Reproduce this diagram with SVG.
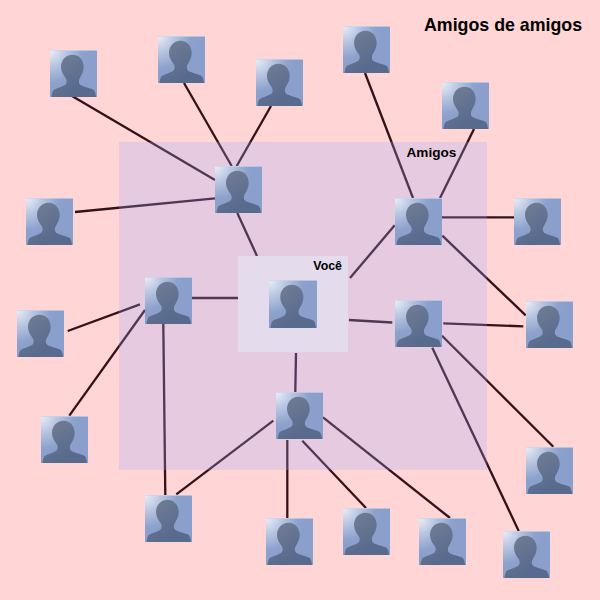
<svg xmlns="http://www.w3.org/2000/svg" width="600" height="600" viewBox="0 0 600 600">
<style>
.t{font-family:"Liberation Sans",Arial,sans-serif;font-weight:bold;fill:#000}
#connectors line{stroke:#34121a;stroke-width:2.300;fill:none}
</style>
<defs>
<radialGradient id="bg" gradientUnits="userSpaceOnUse" cx="0" cy="0" r="38">
<stop offset="0" stop-color="#eceff7"/><stop offset="0.4" stop-color="#bcc8e2"/><stop offset="0.85" stop-color="#8da2cc"/><stop offset="1" stop-color="#8a9fcb"/>
</radialGradient>
<linearGradient id="fg" x1="0.1" y1="0" x2="0.6" y2="0.8">
<stop offset="0" stop-color="#737e94"/><stop offset="1" stop-color="#586a8e"/>
</linearGradient>
<symbol id="person" viewBox="0 0 47 47" overflow="visible">
<rect width="47" height="47" fill="url(#bg)"/>
<path d="M0 .5H47" stroke="#c4d6ee" stroke-width="1" opacity=".7"/>
<path fill="url(#fg)" d="M22.500 4.700C29 4.700 33.700 10 33.700 17C33.700 21.500 31.500 25.500 29.500 28.500C28.500 31 28.500 33.500 30.500 35C34 37 40 38 43 39.500C45 40.500 45.500 43 46 47H1.500C2 43 2.500 40.500 4.500 39.500C7 38 12 37 15 35C17 33.500 17 31 16 28.500C13.500 25.500 11 21.500 11 17C11 10 16 4.700 22.500 4.700Z"/>
</symbol>
</defs>
<rect id="background" width="600" height="600" fill="#ffd5d5"/>
<g id="connectors">
<line x1="72" y1="96" x2="215" y2="180"/>
<line x1="184" y1="83" x2="231.700" y2="166"/>
<line x1="271" y1="106" x2="236.700" y2="166"/>
<line x1="365" y1="73" x2="413" y2="198"/>
<line x1="474" y1="129" x2="440" y2="198"/>
<line x1="75" y1="212" x2="215" y2="198.300"/>
<line x1="237.300" y1="213" x2="257" y2="256"/>
<line x1="350" y1="278" x2="394.700" y2="225.300"/>
<line x1="442" y1="217.300" x2="514" y2="217.300"/>
<line x1="442.300" y1="235.700" x2="525.700" y2="315.300"/>
<line x1="192" y1="298" x2="240" y2="298"/>
<line x1="349" y1="320" x2="392.300" y2="322.500"/>
<line x1="443.300" y1="323.300" x2="523.300" y2="326.300"/>
<line x1="67.700" y1="331" x2="140" y2="304.300"/>
<line x1="69.300" y1="415.700" x2="145" y2="310"/>
<line x1="163.300" y1="324" x2="165.300" y2="495"/>
<line x1="296" y1="353" x2="295.300" y2="392"/>
<line x1="273.300" y1="420.700" x2="176.300" y2="494.300"/>
<line x1="287.300" y1="440" x2="287.300" y2="518"/>
<line x1="302.300" y1="440.700" x2="366" y2="508"/>
<line x1="323" y1="417.300" x2="450" y2="518"/>
<line x1="442" y1="335.700" x2="553.300" y2="446.700"/>
<line x1="432.300" y1="347.700" x2="518.700" y2="531"/>
</g>
<rect id="amigos-area" x="119" y="142" width="368" height="328" fill="#9cacff" fill-opacity="0.25"/>
<rect id="voce-area" x="238" y="256" width="110" height="96" fill="#e4dcec"/>
<text class="t" x="406.500" y="157.300" font-size="13.600">Amigos</text>
<text class="t" x="313.300" y="270" font-size="12.400">Você</text>
<text class="t" x="424" y="31" font-size="17.800">Amigos de amigos</text>
<g id="n1"><use href="#person" x="50" y="50" width="47" height="47"/></g>
<g id="n2"><use href="#person" x="158" y="36" width="47" height="47"/></g>
<g id="n3"><use href="#person" x="256" y="59" width="47" height="47"/></g>
<g id="n4"><use href="#person" x="343" y="26" width="47" height="47"/></g>
<g id="n5"><use href="#person" x="442" y="82" width="47" height="47"/></g>
<g id="n6"><use href="#person" x="215" y="166" width="47" height="47"/></g>
<g id="n7"><use href="#person" x="395" y="198" width="47" height="47"/></g>
<g id="n8"><use href="#person" x="514" y="198" width="47" height="47"/></g>
<g id="n9"><use href="#person" x="26" y="198" width="47" height="47"/></g>
<g id="n10"><use href="#person" x="145" y="277" width="47" height="47"/></g>
<g id="voce"><use href="#person" x="269" y="280" width="48" height="48"/></g>
<g id="n12"><use href="#person" x="395" y="300" width="47" height="47"/></g>
<g id="n13"><use href="#person" x="526" y="301" width="47" height="47"/></g>
<g id="n14"><use href="#person" x="17" y="310" width="47" height="47"/></g>
<g id="n15"><use href="#person" x="41" y="416" width="47" height="47"/></g>
<g id="n16"><use href="#person" x="276" y="392" width="47" height="47"/></g>
<g id="n17"><use href="#person" x="526" y="447" width="47" height="47"/></g>
<g id="n18"><use href="#person" x="145" y="495" width="47" height="47"/></g>
<g id="n19"><use href="#person" x="266" y="518" width="47" height="47"/></g>
<g id="n20"><use href="#person" x="343" y="508" width="47" height="47"/></g>
<g id="n21"><use href="#person" x="419" y="518" width="47" height="47"/></g>
<g id="n22"><use href="#person" x="503" y="531" width="47" height="47"/></g>
</svg>
